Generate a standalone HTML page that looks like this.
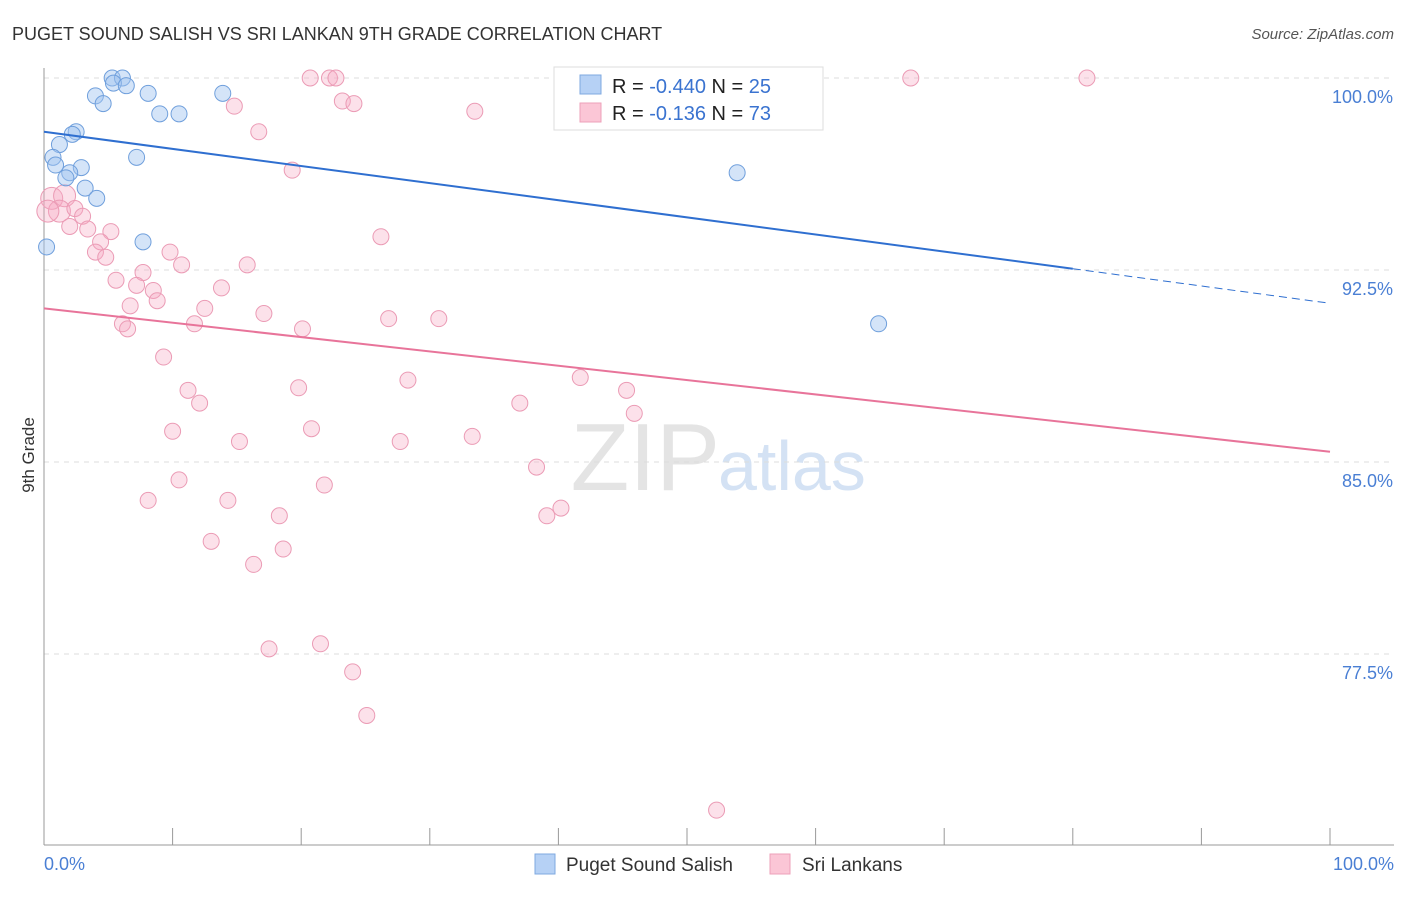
<!DOCTYPE html>
<html><head><meta charset="utf-8"><style>
body{margin:0;background:#fff;font-family:"Liberation Sans",sans-serif}
svg text{font-family:"Liberation Sans",sans-serif}
</style></head><body>
<svg id="chart" width="1406" height="892" xmlns="http://www.w3.org/2000/svg">
<text x="12" y="40" font-size="18" fill="#333">PUGET SOUND SALISH VS SRI LANKAN 9TH GRADE CORRELATION CHART</text>
<text x="1394" y="39" font-size="15" fill="#555" text-anchor="end" font-style="italic">Source: ZipAtlas.com</text>
<text x="720" y="490" font-size="96" fill="#e4e4e4" text-anchor="end" font-family="Liberation Serif">ZIP</text>
<text x="718" y="490" font-size="70" fill="#d4e2f4">atlas</text>
<g id="grid"></g>
<g id="axes"></g>
<g id="pts"></g>
<g id="lines"></g>
<text transform="translate(34,455) rotate(-90)" font-size="17" fill="#333" text-anchor="middle">9th Grade</text>
<text x="44" y="870" font-size="18" fill="#4a7fd4">0.0%</text>
<text x="1394" y="870" font-size="18" fill="#4a7fd4" text-anchor="end">100.0%</text>
<g>
<rect x="554" y="67" width="269" height="63" fill="#fff" stroke="#ddd"/>
<rect x="580" y="75" width="21" height="19" fill="#b6d1f5" stroke="#7fa9e0"/>
<rect x="580" y="103" width="21" height="19" fill="#fbc6d6" stroke="#eea0b9"/>
<text x="612" y="93" font-size="20" fill="#222">R = <tspan fill="#3a73d0">-0.440</tspan>   N = <tspan fill="#3a73d0">25</tspan></text>
<text x="612" y="120" font-size="20" fill="#222">R =  <tspan fill="#3a73d0"> -0.136</tspan>   N = <tspan fill="#3a73d0">73</tspan></text>
</g>
<g>
<rect x="535" y="854" width="20" height="20" fill="#b6d1f5" stroke="#7fa9e0"/>
<text x="566" y="871" font-size="19" fill="#333">Puget Sound Salish</text>
<rect x="770" y="854" width="20" height="20" fill="#fbc6d6" stroke="#eea0b9"/>
<text x="802" y="871" font-size="19" fill="#333">Sri Lankans</text>
</g>
</svg>
<script>
const yTicks=[100,92.5,85,77.5];
const xTicks=[0,10,20,30,40,50,60,70,80,90,100];
const blueX=[5.3,6.1,5.4,6.4,4,8.1,4.6,13.9,9,10.5,2.5,2.2,1.2,7.2,0.7,0.9,2.9,2,1.7,3.2,4.1,7.7,0.2,53.9,64.9];
const blueY=[100,100,99.8,99.7,99.3,99.4,99,99.4,98.6,98.6,97.9,97.8,97.4,96.9,96.9,96.6,96.5,96.3,96.1,95.7,95.3,93.6,93.4,96.3,90.4];
const pinkX=[20.7,22.2,22.7,67.4,81.1,23.2,24.1,14.8,33.5,16.7,19.3,0.6,1.6,1.2,0.3,2.4,3,2,3.4,5.2,4.4,4,4.8,9.8,26.2,10.7,15.8,7.7,5.6,7.2,8.5,13.8,8.8,6.7,12.5,17.1,6.1,6.5,11.7,26.8,30.7,20.1,9.3,28.3,41.7,19.8,11.2,45.3,12.1,37,45.9,10,20.8,15.2,27.7,33.3,38.3,10.5,21.8,8.1,14.3,40.2,39.1,18.3,13,18.6,16.3,17.5,21.5,24,25.1,52.3];
const pinkY=[100,100,100,100,100,99.1,99,98.9,98.7,97.9,96.4,95.3,95.4,94.8,94.8,94.9,94.6,94.2,94.1,94,93.6,93.2,93,93.2,93.8,92.7,92.7,92.4,92.1,91.9,91.7,91.8,91.3,91.1,91,90.8,90.4,90.2,90.4,90.6,90.6,90.2,89.1,88.2,88.3,87.9,87.8,87.8,87.3,87.3,86.9,86.2,86.3,85.8,85.8,86,84.8,84.3,84.1,83.5,83.5,83.2,82.9,82.9,81.9,81.6,81,77.7,77.9,76.8,75.1,71.4];
const big=[11,12,13,14];
const X=v=>44+v*12.86, Y=v=>78+(100-v)*25.6;
const NS="http://www.w3.org/2000/svg";
function mk(t,a,p){const e=document.createElementNS(NS,t);for(const k in a)e.setAttribute(k,a[k]);p.appendChild(e);return e;}
const grid=document.getElementById('grid'),axes=document.getElementById('axes'),pts=document.getElementById('pts'),lines=document.getElementById('lines');
yTicks.forEach(v=>{
 const l=mk('line',{x1:44,x2:1394,y1:Y(v),y2:Y(v),stroke:'#ddd','stroke-dasharray':'5,5'},grid);
 
 
 const t=mk('text',{x:1393,y:Y(v)+25,'font-size':18,fill:'#4a7fd4','text-anchor':'end'},grid);
 t.textContent=v.toFixed(1)+'%';
 
 
});
const ax=mk('line',{x1:44,x2:1394,y1:845,y2:845,stroke:'#999'},axes);


const ay=mk('line',{x1:44,x2:44,y1:68,y2:845,stroke:'#999'},axes);


xTicks.forEach(v=>{
 const l=mk('line',{x1:X(v),x2:X(v),y1:828,y2:845,stroke:'#999'},axes);
 
 
});
pinkX.forEach((x,i)=>{
 const c=mk('circle',{cx:X(x),cy:Y(pinkY[i]),r:big.includes(i)?11:8,fill:'rgba(246,170,195,0.35)',stroke:'#eb9bb5','stroke-width':1},pts);
 
 
});
blueX.forEach((x,i)=>{
 const c=mk('circle',{cx:X(x),cy:Y(blueY[i]),r:8,fill:'rgba(160,196,240,0.45)',stroke:'#6f9fdc','stroke-width':1},pts);
 
 
});
const b1=mk('line',{x1:X(0),y1:Y(97.9),x2:X(80),y2:Y(92.55),stroke:'#2f6fd0','stroke-width':2},lines);


const b2=mk('line',{x1:X(80),y1:Y(92.55),x2:X(100),y2:Y(91.2),stroke:'#2f6fd0','stroke-width':1,'stroke-dasharray':'8,5'},lines);


const p1=mk('line',{x1:X(0),y1:Y(91),x2:X(100),y2:Y(85.4),stroke:'#e8749a','stroke-width':2},lines);


</script>
</body></html>
